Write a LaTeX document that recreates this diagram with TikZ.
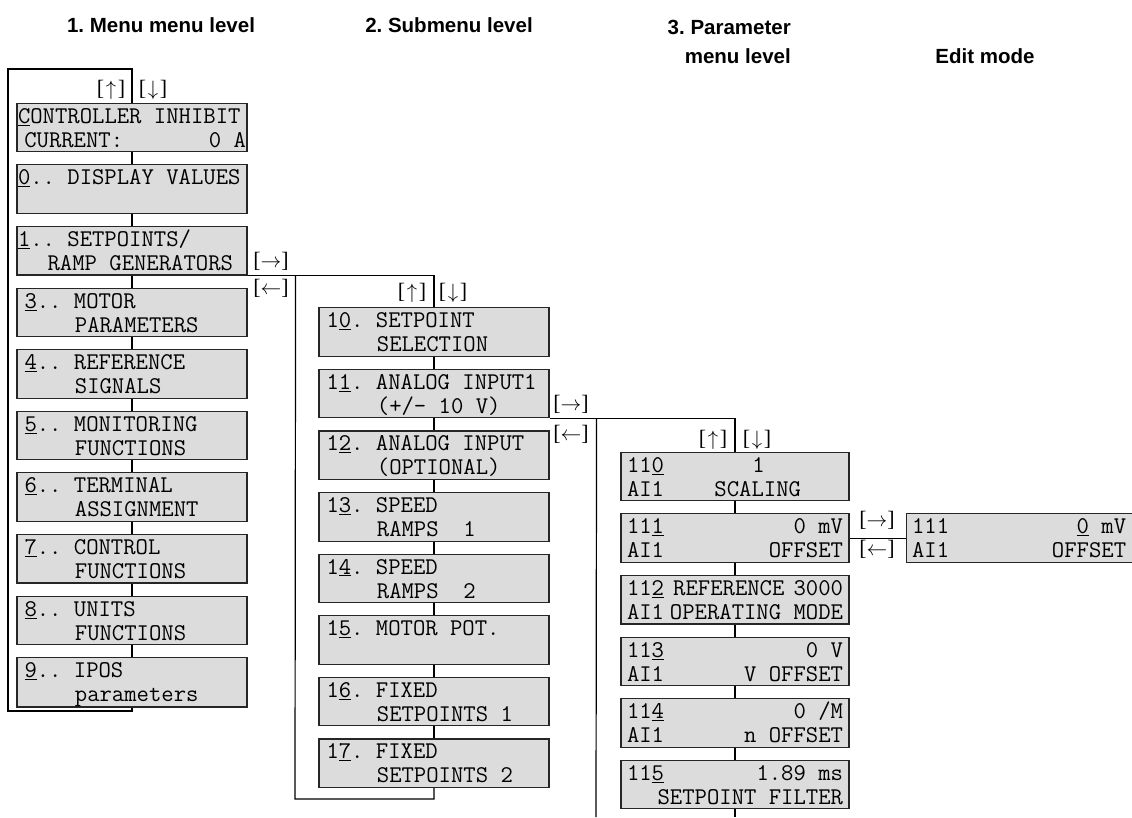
\documentclass[tikz,border=0pt]{standalone}
\usepackage{fontspec}
\setmainfont{Liberation Sans}
\newfontfamily\keyfont{Liberation Serif}
\usetikzlibrary{positioning}

\definecolor{lcdgray}{RGB}{220,220,220}
% n character cells of the display font
\newcommand\lcdskip[1]{\hspace*{#1\dimexpr 0.525em\relax}}
% two display rows
\newcommand\lcdtext[2]{\rule{0pt}{20pt}#1\\\rule[-4.5pt]{0pt}{4.5pt}#2}
% keys in brackets
\newcommand\keycap[1]{{\keyfont[}$#1${\keyfont]}}
\newcommand\keycapv[1]{\keycap{\mkern1.5mu#1\mkern1.5mu}}
\frenchspacing

\tikzset{
  lcd/.style={draw=black!85, line width=1.1pt, fill=lcdgray,
    minimum width=230pt, minimum height=48.5pt, inner xsep=7.5pt, inner ysep=0pt,
    text width=215pt, align=flush left, font=\ttfamily\fontsize{24}{24}\selectfont},
  lcdwide/.style={lcd, inner xsep=1pt, text width=228pt},
  lcdpar/.style={lcd, minimum width=228pt, inner xsep=6pt, text width=216pt},
  key/.style={font=\fontsize{22}{24}\selectfont, inner sep=0pt},
  title/.style={font=\bfseries\fontsize{20.5}{29}\selectfont, inner sep=0pt},
  link/.style={line width=1.2pt}
}

\begin{document}
\begin{tikzpicture}[x=1pt, y=-1pt, node distance=12pt]
    \useasboundingbox (0,0) rectangle (1132,817);

    % titoli
    \node[title] (h1) at (161,25) {1. Menu menu level};
    \node[title] (h2) at (449,25) {2. Submenu level};
    \node[title, align=right, anchor=east] (h3) at (791,41.5) {3. Parameter\\menu level};
    \node[title] (h4) at (985,56) {Edit mode};

    % livello menu
    \node[lcdwide] (ci) at (132,127.5) {\lcdtext{\underline{C}ONTROLLER INHIBIT}{\lcdskip{0.5}CURRENT:\hfill 0 A\lcdskip{1.35}}};
    \node[lcdwide, below=of ci] (m0) {\lcdtext{\underline{0}..~DISPLAY VALUES}{}};
    \node[lcdwide, below=of m0] (m1) {\lcdtext{\underline{1}..~SETPOINTS/}{\lcdskip{2.35}RAMP GENERATORS}};
    \node[lcd, below=of m1] (m3) {\lcdtext{\underline{3}..~MOTOR}{\lcdskip{4}PARAMETERS}};
    \node[lcd, below=of m3] (m4) {\lcdtext{\underline{4}..~REFERENCE}{\lcdskip{4}SIGNALS}};
    \node[lcd, below=of m4] (m5) {\lcdtext{\underline{5}..~MONITORING}{\lcdskip{4}FUNCTIONS}};
    \node[lcd, below=of m5] (m6) {\lcdtext{\underline{6}..~TERMINAL}{\lcdskip{4}ASSIGNMENT}};
    \node[lcd, below=of m6] (m7) {\lcdtext{\underline{7}..~CONTROL}{\lcdskip{4}FUNCTIONS}};
    \node[lcd, below=of m7] (m8) {\lcdtext{\underline{8}..~UNITS}{\lcdskip{4}FUNCTIONS}};
    \node[lcd, below=of m8] (m9) {\lcdtext{\underline{9}..~IPOS}{\lcdskip{4}parameters}};

    % livello sottomenu
    \node[lcd] (s10) at (434,332) {\lcdtext{1\underline{0}.~SETPOINT}{\lcdskip{4}SELECTION}};
    \node[lcd, below=of s10] (s11) {\lcdtext{1\underline{1}.~ANALOG INPUT1}{\lcdskip{4}(+/-~10~V)}};
    \node[lcd, below=of s11] (s12) {\lcdtext{1\underline{2}.~ANALOG INPUT}{\lcdskip{4}(OPTIONAL)}};
    \node[lcd, below=of s12] (s13) {\lcdtext{1\underline{3}.~SPEED}{\lcdskip{4}RAMPS~~1}};
    \node[lcd, below=of s13] (s14) {\lcdtext{1\underline{4}.~SPEED}{\lcdskip{4}RAMPS~~2}};
    \node[lcd, below=of s14] (s15) {\lcdtext{1\underline{5}.~MOTOR POT.}{}};
    \node[lcd, below=of s15] (s16) {\lcdtext{1\underline{6}.~FIXED}{\lcdskip{4}SETPOINTS~1}};
    \node[lcd, below=of s16] (s17) {\lcdtext{1\underline{7}.~FIXED}{\lcdskip{4}SETPOINTS~2}};

    % livello parametri
    \node[lcdpar] (p110) at (735,476.5) {\lcdtext{11\underline{0}\lcdskip{7}1}{AI1\lcdskip{4}SCALING}};
    \node[lcdpar, below=of p110] (p111) {\lcdtext{11\underline{1}\hfill 0~mV}{AI1\hfill OFFSET}};
    \node[lcdpar, below=of p111] (p112) {\lcdtext{11\underline{2}\hfill REFERENCE\hfill 3000}{AI1\hfill OPERATING~MODE}};
    \node[lcdpar, below=of p112] (p113) {\lcdtext{11\underline{3}\hfill 0~V}{AI1\hfill V~OFFSET}};
    \node[lcdpar, below=of p113] (p114) {\lcdtext{11\underline{4}\hfill 0~/M}{AI1\hfill n~OFFSET}};
    \node[lcdpar, below=of p114] (p115) {\lcdtext{11\underline{5}\hfill 1.89~ms}{\hfill SETPOINT~FILTER}};

    % modo edit
    \node[lcdpar, minimum width=226pt, text width=214pt, right=56pt of p111] (e111) {\lcdtext{111\hfill\underline{0}~mV}{AI1\hfill OFFSET}};

    % anelli e collegamenti
    \coordinate (r1a) at (8,69);
    \coordinate (r1b) at (8,711);
    \draw[link] (ci.north) |- (r1a) -- (r1b) -| (m9.south);
    \foreach \a/\b in {ci/m0, m0/m1, m1/m3, m3/m4, m4/m5, m5/m6, m6/m7, m7/m8, m8/m9}
        \draw[link] (\a) -- (\b);

    \coordinate (r2a) at ([xshift=48pt]m1.south east);
    \coordinate (r2b) at (295,799);
    \draw[link] (m1.south east) -| (s10.north);
    \draw[link] (r2a) -- (r2b) -| (s17.south);
    \foreach \a/\b in {s10/s11, s11/s12, s12/s13, s13/s14, s14/s15, s15/s16, s16/s17}
        \draw[link] (\a) -- (\b);

    \coordinate (r3a) at ([xshift=47pt]s11.south east);
    \coordinate (r3b) at (596,817);
    \coordinate (r3c) at (p115.south |- r3b);
    \draw[link] (s11.south east) -| (p110.north);
    \draw[link] (r3a) -- (r3b);
    \draw[link] (p115.south) -- (r3c);
    \foreach \a/\b in {p110/p111, p111/p112, p112/p113, p113/p114, p114/p115}
        \draw[link] (\a) -- (\b);

    \draw[link] (p111) -- (e111);

    % tasti
    \node[key] (k1u) at (111,90) {\keycapv{\uparrow}};
    \node[key] (k1d) at (153,90) {\keycapv{\downarrow}};
    \node[key] (k1r) at (271,261) {\keycap{\rightarrow}};
    \node[key] (k1l) at (271,288) {\keycap{\leftarrow}};
    \node[key] (k2u) at (412,293) {\keycapv{\uparrow}};
    \node[key] (k2d) at (453,293) {\keycapv{\downarrow}};
    \node[key] (k2r) at (571,404) {\keycap{\rightarrow}};
    \node[key] (k2l) at (571,434) {\keycap{\leftarrow}};
    \node[key] (k3u) at (713,440) {\keycapv{\uparrow}};
    \node[key] (k3d) at (757,440) {\keycapv{\downarrow}};
    \node[key] (k4r) at (877,520) {\keycap{\rightarrow}};
    \node[key] (k4l) at (877,549) {\keycap{\leftarrow}};
\end{tikzpicture}
\end{document}
